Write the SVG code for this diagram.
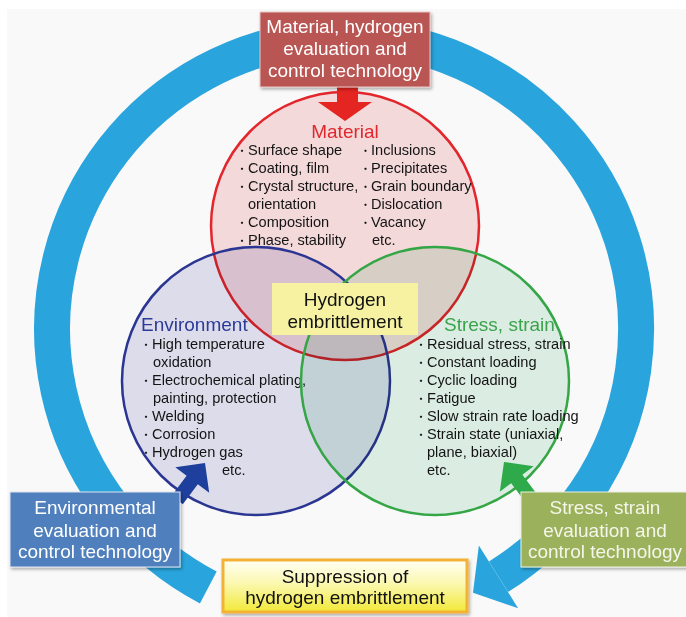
<svg xmlns="http://www.w3.org/2000/svg" width="686" height="617" viewBox="0 0 686 617">
<defs>
<style>
.t{font-family:"Liberation Sans","Noto Sans CJK JP",sans-serif;font-size:14.6px;fill:#141414}
.b{font-size:11px}
.ttl{font-family:"Liberation Sans","Noto Sans CJK JP",sans-serif;font-size:19px}
.bx{font-family:"Liberation Sans","Noto Sans CJK JP",sans-serif;font-size:19px;text-anchor:middle}
.fill{mix-blend-mode:multiply;stroke:none}
</style>
<linearGradient id="yg" x1="0" y1="0" x2="0" y2="1">
<stop offset="0" stop-color="#fffff4"/>
<stop offset="0.45" stop-color="#fbf8b0"/>
<stop offset="1" stop-color="#f1e838"/>
</linearGradient>
<filter id="sh" x="-10%" y="-10%" width="125%" height="130%">
<feDropShadow dx="1.5" dy="2" stdDeviation="1.5" flood-color="#000" flood-opacity="0.3"/>
</filter>
</defs>
<rect x="0" y="0" width="686" height="617" fill="#ffffff"/>
<rect x="7" y="9" width="679" height="608" fill="#f9f9f9"/>

<g id="material">
<circle class="fill" cx="345" cy="226" r="134" fill="#fadfe0"/>
<circle cx="345" cy="226" r="134" fill="none" stroke="#e3262b" stroke-width="2.5"/>
<text class="ttl" x="345" y="138" text-anchor="middle" fill="#e0282c">Material</text>
<text class="t"><tspan class="b" x="236.5" y="155">・</tspan><tspan x="248">Surface shape</tspan></text>
<text class="t"><tspan class="b" x="236.5" y="173">・</tspan><tspan x="248">Coating, film</tspan></text>
<text class="t"><tspan class="b" x="236.5" y="191">・</tspan><tspan x="248">Crystal structure,</tspan></text>
<text class="t" x="248" y="209">orientation</text>
<text class="t"><tspan class="b" x="236.5" y="227">・</tspan><tspan x="248">Composition</tspan></text>
<text class="t"><tspan class="b" x="236.5" y="245">・</tspan><tspan x="248">Phase, stability</tspan></text>
<text class="t"><tspan class="b" x="360" y="155">・</tspan><tspan x="371">Inclusions</tspan></text>
<text class="t"><tspan class="b" x="360" y="173">・</tspan><tspan x="371">Precipitates</tspan></text>
<text class="t"><tspan class="b" x="360" y="191">・</tspan><tspan x="371">Grain boundary</tspan></text>
<text class="t"><tspan class="b" x="360" y="209">・</tspan><tspan x="371">Dislocation</tspan></text>
<text class="t"><tspan class="b" x="360" y="227">・</tspan><tspan x="371">Vacancy</tspan></text>
<text class="t" x="372" y="245">etc.</text>
</g>

<g id="environment">
<circle class="fill" cx="256" cy="381" r="134" fill="#e2e2f1"/>
<circle cx="256" cy="381" r="134" fill="none" stroke="#2b3592" stroke-width="2.5"/>
<text class="ttl" x="141" y="331" fill="#2d3b98">Environment</text>
<text class="t"><tspan class="b" x="140.5" y="349">・</tspan><tspan x="152">High temperature</tspan></text>
<text class="t" x="153" y="367">oxidation</text>
<text class="t"><tspan class="b" x="140.5" y="385">・</tspan><tspan x="152">Electrochemical plating,</tspan></text>
<text class="t" x="153" y="403">painting, protection</text>
<text class="t"><tspan class="b" x="140.5" y="421">・</tspan><tspan x="152">Welding</tspan></text>
<text class="t"><tspan class="b" x="140.5" y="439">・</tspan><tspan x="152">Corrosion</tspan></text>
<text class="t"><tspan class="b" x="140.5" y="457">・</tspan><tspan x="152">Hydrogen gas</tspan></text>
<text class="t" x="222" y="475">etc.</text>
</g>

<g id="stress">
<circle class="fill" cx="435" cy="381" r="134" fill="#e1f3e8"/>
<circle cx="435" cy="381" r="134" fill="none" stroke="#34a645" stroke-width="2.5"/>
<text class="ttl" x="444" y="331" fill="#3ba34b">Stress, strain</text>
<text class="t"><tspan class="b" x="415.5" y="349">・</tspan><tspan x="427">Residual stress, strain</tspan></text>
<text class="t"><tspan class="b" x="415.5" y="367">・</tspan><tspan x="427">Constant loading</tspan></text>
<text class="t"><tspan class="b" x="415.5" y="385">・</tspan><tspan x="427">Cyclic loading</tspan></text>
<text class="t"><tspan class="b" x="415.5" y="403">・</tspan><tspan x="427">Fatigue</tspan></text>
<text class="t"><tspan class="b" x="415.5" y="421">・</tspan><tspan x="427">Slow strain rate loading</tspan></text>
<text class="t"><tspan class="b" x="415.5" y="439">・</tspan><tspan x="427">Strain state (uniaxial,</tspan></text>
<text class="t" x="427" y="457">plane, biaxial)</text>
<text class="t" x="427" y="475">etc.</text>
</g>

<g id="connectors">
<path d="M 208.3 587.5 A 292 292 0 1 1 498.5 576.8" fill="none" stroke="#29a4dc" stroke-width="36"/>
<polygon points="478.9,545.4 518.1,608.2 473,592.7" fill="#29a4dc"/>
<polygon points="337,86 358,86 358,102 372,102 345,121 318,102 337,102" fill="#e52521"/>
<polygon points="205,463 209.2,492.7 197.8,484.2 182.8,504.2 171.6,495.8 186.6,475.8 175.3,467.2" fill="#1f3f9c"/>
<polygon points="504,462 533.7,466.2 522.4,474.8 537.4,494.8 526.2,503.2 511.2,483.2 499.8,491.7" fill="#2eaa4a"/>
</g>

<g id="hydrogen-embrittlement">
<rect x="272" y="283" width="146" height="52" fill="#f6f2a2"/>
<text class="bx" x="345" y="306" fill="#111">Hydrogen</text>
<text class="bx" x="345" y="328" fill="#111">embrittlement</text>
</g>

<g id="material-tech">
<rect x="260" y="12" width="170" height="75" fill="#b95552" stroke="#e8c8c6" stroke-width="1" filter="url(#sh)"/>
<text class="bx" x="345" y="33" fill="#ffffff">Material, hydrogen</text>
<text class="bx" x="345" y="55" fill="#ffffff">evaluation and</text>
<text class="bx" x="345" y="77" fill="#ffffff">control technology</text>
</g>

<g id="environmental-tech">
<rect x="10" y="492" width="170" height="75" fill="#4f7fbd" stroke="#dfe6f0" stroke-width="1" filter="url(#sh)"/>
<text class="bx" x="95" y="514" fill="#ffffff">Environmental</text>
<text class="bx" x="95" y="537" fill="#ffffff">evaluation and</text>
<text class="bx" x="95" y="558" fill="#ffffff">control technology</text>
</g>

<g id="stress-tech">
<rect x="521" y="492" width="170" height="75" fill="#9bb15c" stroke="#eef0e0" stroke-width="1" filter="url(#sh)"/>
<text class="bx" x="605" y="514" fill="#f4f6ea">Stress, strain</text>
<text class="bx" x="605" y="537" fill="#f4f6ea">evaluation and</text>
<text class="bx" x="605" y="558" fill="#f4f6ea">control technology</text>
</g>

<g id="suppression">
<rect x="223" y="560" width="244" height="52" fill="url(#yg)" stroke="#f3b235" stroke-width="3" filter="url(#sh)"/>
<text class="bx" x="345" y="583" fill="#111">Suppression of</text>
<text class="bx" x="345" y="604" fill="#111">hydrogen embrittlement</text>
</g>
</svg>
